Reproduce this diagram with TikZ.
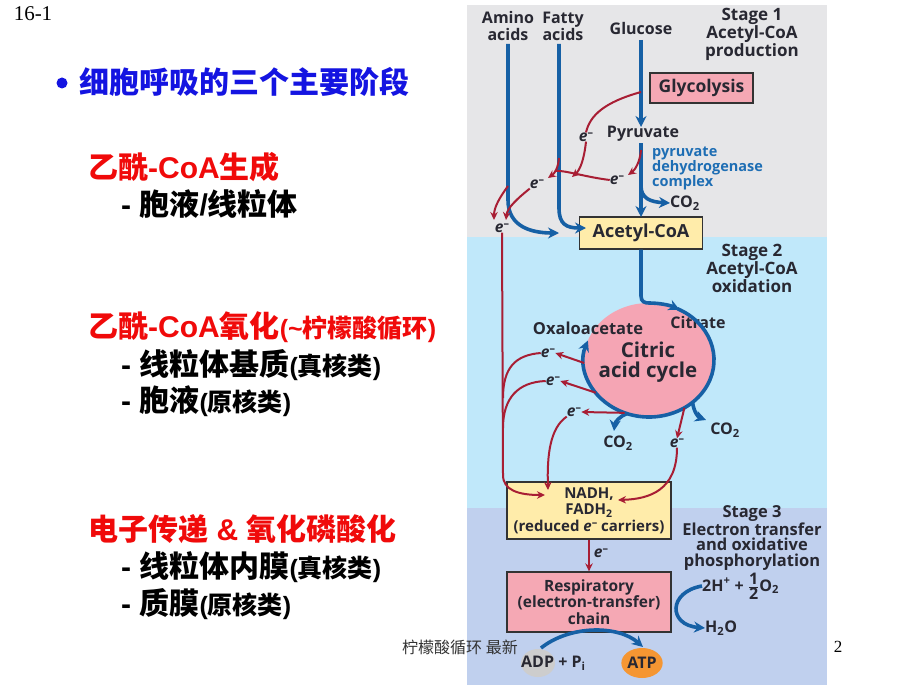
\documentclass[tikz,border=0pt]{standalone}
\usepackage{fontspec}
\usetikzlibrary{arrows.meta,shapes.geometric}
\newfontfamily\cjk{Noto Sans CJK SC}
\newfontfamily\lat{Liberation Sans}
\newfontfamily\dia{Open Sans}
\newfontfamily\ser{Liberation Serif}
\definecolor{pgray}{RGB}{230,230,232}
\definecolor{pblue}{RGB}{192,232,250}
\definecolor{pperi}{RGB}{192,208,238}
\definecolor{arrb}{RGB}{22,96,165}
\definecolor{arrr}{RGB}{168,30,52}
\definecolor{boxpink}{RGB}{245,168,180}
\definecolor{boxyel}{RGB}{255,236,170}
\definecolor{cycpink}{RGB}{245,165,180}
\definecolor{dtxt}{RGB}{40,40,50}
\definecolor{pdhblue}{RGB}{30,110,180}
\definecolor{atporange}{RGB}{245,150,50}
\definecolor{adpgray}{RGB}{205,205,205}
\definecolor{zhred}{RGB}{240,10,10}
\definecolor{zhblue}{RGB}{20,20,225}
\newcommand\zh[1]{{\cjk\bfseries #1}}
\newcommand\la[1]{{\lat\bfseries #1}}
\newcommand\el{\textit{e}\raisebox{0.55ex}{\fontsize{11}{11}\selectfont –}}
\begin{document}
\begin{tikzpicture}[x=1pt,y=-1pt,
  dt/.style={inner sep=0, text=dtxt, font=\dia\bfseries\fontsize{16}{17}\selectfont},
  elab/.style={inner sep=0, text=dtxt, font=\dia\bfseries\fontsize{15.5}{15}\selectfont},
  pbox/.style={draw=black!80, line width=1.3pt, fill=boxpink, inner sep=0, text=dtxt, align=center},
  ybox/.style={draw=black!80, line width=1.3pt, fill=boxyel, inner sep=0, text=dtxt, align=center},
  bl/.style={draw=arrb, line width=3.6pt, -{Stealth[length=11pt,width=11pt]}},
  rd/.style={draw=arrr, line width=2pt, -{Stealth[length=8pt,width=7.5pt]}},
  rdl/.style={draw=arrr, line width=2pt},
  hd/.style={anchor=west, inner sep=0, text=zhred, font=\fontsize{30}{32}\selectfont},
  sub/.style={anchor=west, inner sep=0, text=black, font=\fontsize{30}{32}\selectfont}]
\useasboundingbox (0,0) rectangle (920,690);
\fill[white] (0,0) rectangle (920,690);
% panels
\fill[pgray] (467,5) rectangle (827,237);
\fill[pblue] (467,237) rectangle (827,508);
\fill[pperi] (467,508) rectangle (827,685);
% left text
\node (num) [inner sep=0] at (33,14) {\ser\fontsize{21}{22}\selectfont 16-1};
\fill[zhblue] (62,83) circle (5.5);
\node (title) [anchor=west, inner sep=0, text=zhblue, font=\cjk\bfseries\fontsize{30}{32}\selectfont] at (79,82) {细胞呼吸的三个主要阶段};
\node (h1) [hd] at (88,167) {\zh{乙酰}\la{-CoA}\zh{生成}};
\node (s1) [sub] at (121,204) {\la{- }\zh{胞液}\la{/}\zh{线粒体}};
\node (h2) [hd] at (88,327) {\zh{乙酰}\la{-CoA}\zh{氧化}{\fontsize{25}{27}\selectfont\la{(\textasciitilde}\zh{柠檬酸循环}\la{)}}};
\node (s2) [sub] at (121,365) {\la{- }\zh{线粒体基质}{\fontsize{25}{27}\selectfont\la{(}\zh{真核类}\la{)}}};
\node (s3) [sub] at (121,401) {\la{- }\zh{胞液}{\fontsize{25}{27}\selectfont\la{(}\zh{原核类}\la{)}}};
\node (h3) [hd] at (88,529) {\zh{电子传递}\la{ \& }\zh{氧化磷酸化}};
\node (s4) [sub] at (121,567) {\la{- }\zh{线粒体内膜}{\fontsize{25}{27}\selectfont\la{(}\zh{真核类}\la{)}}};
\node (s5) [sub] at (121,604) {\la{- }\zh{质膜}{\fontsize{25}{27}\selectfont\la{(}\zh{原核类}\la{)}}};
% stage 1
\node (amino) [dt, align=center] at (508,26) {Amino\\acids};
\node (fatty) [dt, align=center] at (563,26) {Fatty\\acids};
\node (gluc) [dt] at (641,29) {Glucose};
\node (st1) [dt, align=center, font=\dia\bfseries\fontsize{17}{16.8}\selectfont] at (752,34) {Stage 1\\Acetyl-CoA\\production};
\node (glyc) [pbox, minimum width=103, minimum height=30, font=\dia\bfseries\fontsize{17.5}{18}\selectfont] at (701.5,88) {Glycolysis};
\node (pyr) [dt] at (643,134) {Pyruvate};
\node (pdh) [dt, text=pdhblue, align=left, anchor=west, font=\dia\bfseries\fontsize{14.5}{15}\selectfont] at (652,168) {pyruvate\\dehydrogenase\\complex};
\node (co2a) [dt, anchor=west] at (670,203) {CO\textsubscript{2}};
\node (acoa) [ybox, minimum width=123, minimum height=32, font=\dia\bfseries\fontsize{18}{19}\selectfont] at (641,233) {Acetyl-CoA};
% stage 2
\node (st2) [dt, align=center, font=\dia\bfseries\fontsize{17}{16.8}\selectfont] at (752,268) {Stage 2\\Acetyl-CoA\\oxidation};
\node (cyc) [ellipse, fill=cycpink, minimum width=130, minimum height=114, inner sep=0] at (649,360) {};
\node (cyct) [dt, align=center, font=\dia\bfseries\fontsize{20.5}{20}\selectfont] at (648,362) {Citric\\acid cycle};
\node (citr) [dt, font=\dia\bfseries\fontsize{16}{16}\selectfont] at (698,322) {Citrate};
\node (oxa) [dt, font=\dia\bfseries\fontsize{16.5}{16}\selectfont] at (588,328) {Oxaloacetate};
\node (co2b) [dt] at (618,443) {CO\textsubscript{2}};
\node (co2c) [dt] at (725,430) {CO\textsubscript{2}};
\node (nadh) [ybox, minimum width=164, minimum height=57, font=\dia\bfseries\fontsize{15}{16.5}\selectfont] at (589,510.5) {NADH,\\FADH\textsubscript{2}\\(reduced \el{} carriers)};
% stage 3
\node (st3) [dt, align=center, font=\dia\bfseries\fontsize{16.5}{15.5}\selectfont] at (752,538) {Stage 3\\Electron transfer\\and oxidative\\phosphorylation};
\node (resp) [pbox, minimum width=164, minimum height=60, font=\dia\bfseries\fontsize{15.5}{16.5}\selectfont] at (589,602) {Respiratory\\(electron-transfer)\\chain};
\node (hplus) [dt, anchor=west] at (702,586) {2H\textsuperscript{+} + $\frac{\mbox{1}}{\mbox{2}}$O\textsubscript{2}};
\node (h2o) [dt, anchor=west] at (705,628) {H\textsubscript{2}O};
\node (adp) [ellipse, fill=adpgray, minimum width=34, minimum height=28, inner sep=0] at (538,663) {};
\node (adpt) [dt, anchor=west] at (521,663) {ADP + P\textsubscript{i}};
\node (atp) [ellipse, fill=atporange, minimum width=34, minimum height=30, inner sep=0, text=dtxt, font=\dia\bfseries\fontsize{16}{17}\selectfont] at (642,663) {ATP};
% e- labels
\node (e1) [elab] at (586,137) {\el};
\node (e2) [elab] at (617,180) {\el};
\node (e3) [elab] at (537,184) {\el};
\node (e4) [elab] at (502,228) {\el};
\node (e5) [elab] at (548,353) {\el};
\node (e6) [elab] at (553,381) {\el};
\node (e7) [elab] at (574,412) {\el};
\node (e8) [elab] at (677,443) {\el};
\node (e9) [elab] at (601,553) {\el};
% blue arrows
\draw[bl] (508,44) -- (508,200) .. controls (508,226) and (530,233) .. (559,233);
\draw[bl] (559,44) -- (559,208) .. controls (559,224) and (566,228) .. (586,228);
\draw[bl] (641,40) -- (641,127);
\draw[bl] (641,143) -- (641,217);
\draw[bl] (641,186) .. controls (641,198) and (650,202) .. (co2a.west);
\draw[bl] (acoa.south) -- (641,296) .. controls (641,302) and (645,303) .. (649,303) arc[start angle=-90, end angle=-62, x radius=65, y radius=57];
\draw[bl] (cyc.center) ++(-64:65 and 57) arc[start angle=-64, end angle=200, x radius=65, y radius=57];
\draw[bl] (627,413.6) .. controls (620,416) and (615,422) .. (614,431);
\draw[bl] (692.5,402.4) .. controls (694,412) and (698,417) .. (706,420);
\draw[bl] (hplus.west) .. controls (668,592) and (668,625) .. (h2o.west);
\draw[bl] (541,648) .. controls (570,625) and (618,625) .. (643,647);
% red arrows top
\draw[rdl] (641,92) .. controls (605,102) and (590,115) .. (e1.north);
\draw[rd] (e1.south) .. controls (584,160) and (580,170) .. (572,177);
\draw[rd] (641,150) .. controls (640,162) and (635,170) .. (628,175);
\draw[rdl] (e2.west) .. controls (585,177) and (565,170) .. (555,171);
\draw[rd] (559,158) .. controls (558,168) and (555,173) .. (548,178);
\draw[rd] (e3.south west) .. controls (518,198) and (507,208) .. (506,220);
\draw[rd] (508,186) .. controls (500,197) and (494,207) .. (494,220);
\draw[rd] (e4.south) -- (503,475) .. controls (503,490) and (518,495) .. (545,495);
% red arrows stage 2
\draw[rd] (cyc.center) ++(177:65 and 57) -- (e5.east);
\draw[rd] (cyc.center) ++(145:65 and 57) -- (e6.east);
\draw[rd] (cyc.center) ++(112:65 and 57) -- (e7.east);
\draw[rd] (cyc.center) ++(57:65 and 57) -- (e8.north);
\draw[rdl] (e5.west) .. controls (515,355) and (503,368) .. (503,398);
\draw[rdl] (e6.west) .. controls (518,382) and (503,398) .. (503,428);
\draw[rd] (e7.south west) .. controls (550,428) and (547,455) .. (548,490);
\draw[rd] (e8.south) .. controls (677,490) and (650,499) .. (618,500);
% stage 3
\draw[rd] (nadh.south) -- (resp.north);
% footer
\node (foot) [inner sep=0, text=black!80] at (460,647) {\cjk\fontsize{16}{18}\selectfont 柠檬酸循环 最新};
\node (pg) [inner sep=0] at (838,647) {\ser\fontsize{17}{18}\selectfont 2};
\end{tikzpicture}
\end{document}
